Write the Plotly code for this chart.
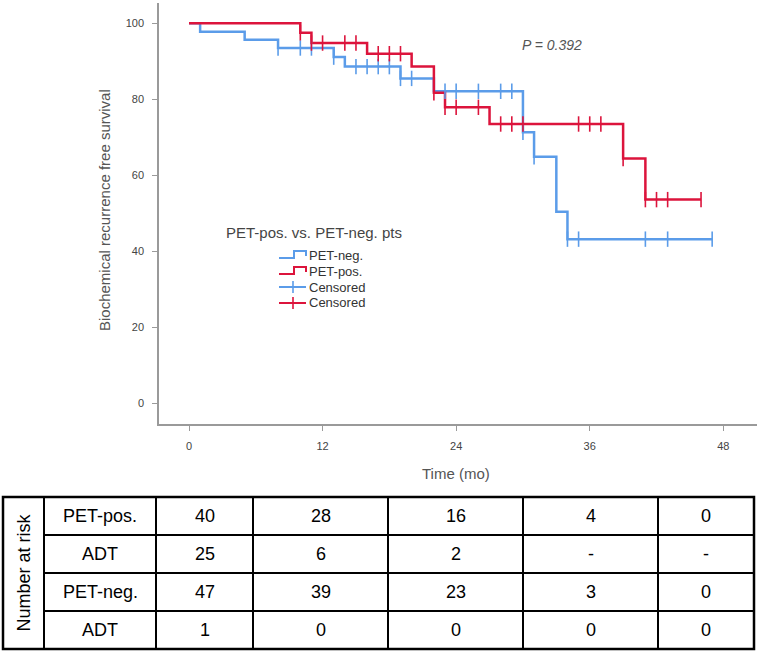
import plotly.graph_objects as go

# ---------------- data ----------------
# Kaplan-Meier step curves (time in months, survival %)
neg_time = [0, 1, 5, 8, 13, 14, 19, 22, 30, 31, 33, 34, 47]
neg_surv = [100, 97.8, 95.7, 93.5, 91.1, 88.6, 85.5, 82.1, 71.3, 64.9, 50.4, 43.2, 43.2]
neg_cens_time = [8, 10, 11, 13, 15, 16, 17, 18, 19, 20, 23, 24, 26, 28, 29, 30, 31, 34, 35, 41, 43, 47]
neg_cens_surv = [93.5, 93.5, 93.5, 91.1, 88.6, 88.6, 88.6, 88.6, 85.5, 85.5, 82.1, 82.1, 82.1, 82.1, 82.1,
                 71.3, 64.9, 43.2, 43.2, 43.2, 43.2, 43.2]

pos_time = [0, 10, 11, 16, 20, 22, 23, 27, 39, 41, 46]
pos_surv = [100, 97.5, 94.8, 92.0, 88.6, 81.7, 77.9, 73.5, 64.4, 53.6, 53.6]
pos_cens_time = [10, 11, 12, 14, 15, 17, 18, 19, 22, 23, 24, 26, 28, 29, 30, 35, 36, 37, 39, 41, 42, 43, 46]
pos_cens_surv = [97.5, 94.8, 94.8, 94.8, 94.8, 92.0, 92.0, 92.0, 81.7, 77.9, 77.9, 77.9,
                 73.5, 73.5, 73.5, 73.5, 73.5, 73.5, 64.4, 53.6, 53.6, 53.6, 53.6]

x_ticks = [0, 12, 24, 36, 48]
y_ticks = [0, 20, 40, 60, 80, 100]

legend_title = "PET-pos. vs. PET-neg. pts"
legend_labels = ["PET-neg.", "PET-pos.", "Censored", "Censored"]
p_text = "P = 0.392"

risk_title = "Number at risk"
risk_rows = ["PET-pos.", "ADT", "PET-neg.", "ADT"]
risk_pos = ["40", "28", "16", "4", "0"]
risk_pos_adt = ["25", "6", "2", "-", "-"]
risk_neg = ["47", "39", "23", "3", "0"]
risk_neg_adt = ["1", "0", "0", "0", "0"]
risk_values = [risk_pos, risk_pos_adt, risk_neg, risk_neg_adt]

# ---------------- styling ----------------
BLUE = "#5b9ce9"
RED = "#dc143c"
AXIS = "#9a9a9a"
TXT = "#444444"
W, H = 757, 653
L, R, T, B = 159, 757, 3, 424  # plot area in pixels


def px(x):
    return (x - L) / (R - L)


def py(y):
    return (B - y) / (B - T)


fig = go.Figure()

fig.add_trace(go.Scatter(x=neg_time, y=neg_surv, mode="lines", line=dict(color=BLUE, width=2.5, shape="hv"),
                         showlegend=False, hoverinfo="skip"))
fig.add_trace(go.Scatter(x=pos_time, y=pos_surv, mode="lines", line=dict(color=RED, width=2.5, shape="hv"),
                         showlegend=False, hoverinfo="skip"))
fig.add_trace(go.Scatter(x=neg_cens_time, y=neg_cens_surv, mode="markers",
                         marker=dict(symbol="line-ns-open", size=11, color=BLUE, line=dict(color=BLUE, width=1.6)),
                         showlegend=False, hoverinfo="skip"))
fig.add_trace(go.Scatter(x=pos_cens_time, y=pos_cens_surv, mode="markers",
                         marker=dict(symbol="line-ns-open", size=11, color=RED, line=dict(color=RED, width=1.6)),
                         showlegend=False, hoverinfo="skip"))

shapes = []
annotations = []

# P value
annotations.append(dict(x=px(552), y=py(45), xref="paper", yref="paper", text="<i>" + p_text + "</i>",
                        showarrow=False, font=dict(family="Liberation Sans, Arial", size=14, color="#555555"),
                        xanchor="center", yanchor="middle"))

# custom legend
annotations.append(dict(x=px(224), y=py(232), xref="paper", yref="paper", text=legend_title, showarrow=False,
                        font=dict(family="Liberation Sans, Arial", size=15, color=TXT),
                        xanchor="left", yanchor="middle"))
leg_y = [255, 271, 287, 303]
leg_col = [BLUE, RED, BLUE, RED]
for i, (lab, col, yy) in enumerate(zip(legend_labels, leg_col, leg_y)):
    annotations.append(dict(x=px(307), y=py(yy), xref="paper", yref="paper", text=lab, showarrow=False,
                            font=dict(family="Liberation Sans, Arial", size=13, color="#333333"),
                            xanchor="left", yanchor="middle"))
    if i < 2:
        pts = [(279, yy + 3), (294, yy + 3), (294, yy - 4), (306, yy - 4), (306, yy + 1)]
        path = "M " + " L ".join(f"{px(a):.5f},{py(b):.5f}" for a, b in pts)
        shapes.append(dict(type="path", xref="paper", yref="paper", path=path,
                           line=dict(color=col, width=2)))
    else:
        shapes.append(dict(type="line", xref="paper", yref="paper", x0=px(279), x1=px(306), y0=py(yy), y1=py(yy),
                           line=dict(color=col, width=2)))
        shapes.append(dict(type="line", xref="paper", yref="paper", x0=px(293), x1=px(293), y0=py(yy - 6),
                           y1=py(yy + 6), line=dict(color=col, width=1.6)))

# axis titles
annotations.append(dict(x=px(104), y=py(210), xref="paper", yref="paper", text="Biochemical recurrence free survival",
                        textangle=-90, showarrow=False,
                        font=dict(family="Liberation Sans, Arial", size=15, color="#555555"),
                        xanchor="center", yanchor="middle"))
annotations.append(dict(x=px(456), y=py(473), xref="paper", yref="paper", text="Time (mo)", showarrow=False,
                        font=dict(family="Liberation Sans, Arial", size=15, color="#555555"),
                        xanchor="center", yanchor="middle"))

# ---------------- number at risk table ----------------
col_x = [3, 44, 156, 253, 388, 523, 658, 754]
row_y = [497, 535, 573, 611, 649]
tfont = dict(family="Liberation Sans, Arial", size=18, color="#000000")

# outer border
shapes.append(dict(type="rect", xref="paper", yref="paper", x0=px(col_x[0]), x1=px(col_x[-1]),
                   y0=py(row_y[0]), y1=py(row_y[-1]), line=dict(color="#000000", width=2.5)))
for cx in col_x[1:-1]:
    shapes.append(dict(type="line", xref="paper", yref="paper", x0=px(cx), x1=px(cx), y0=py(row_y[0]),
                       y1=py(row_y[-1]), line=dict(color="#000000", width=2)))
for ry in row_y[1:-1]:
    shapes.append(dict(type="line", xref="paper", yref="paper", x0=px(col_x[1]), x1=px(col_x[-1]), y0=py(ry),
                       y1=py(ry), line=dict(color="#000000", width=2)))

annotations.append(dict(x=px((col_x[0] + col_x[1]) / 2), y=py((row_y[0] + row_y[-1]) / 2), xref="paper",
                        yref="paper", text=risk_title, textangle=-90, showarrow=False,
                        font=dict(family="Liberation Sans, Arial", size=18, color="#000000"),
                        xanchor="center", yanchor="middle"))
for r, (lab, vals) in enumerate(zip(risk_rows, risk_values)):
    cy = (row_y[r] + row_y[r + 1]) / 2
    annotations.append(dict(x=px((col_x[1] + col_x[2]) / 2), y=py(cy), xref="paper", yref="paper", text=lab,
                            showarrow=False, font=tfont, xanchor="center", yanchor="middle"))
    for c, v in enumerate(vals):
        cx = (col_x[c + 2] + col_x[c + 3]) / 2
        annotations.append(dict(x=px(cx), y=py(cy), xref="paper", yref="paper", text=v,
                                showarrow=False, font=tfont, xanchor="center", yanchor="middle"))

tickfont = dict(family="Liberation Sans, Arial", size=11, color="#444444")
x_lo = (L - 189) / ((723.3 - 189) / 48)
x_hi = (R - 189) / ((723.3 - 189) / 48)
y_lo = -(B - 403.3) / 3.8
y_hi = (403.3 - T) / 3.8

fig.update_layout(
    width=W, height=H,
    margin=dict(l=L, r=W - R, t=T, b=H - B),
    paper_bgcolor="white", plot_bgcolor="white",
    showlegend=False,
    xaxis=dict(range=[x_lo, x_hi], tickvals=x_ticks, ticktext=[str(v) for v in x_ticks],
               showgrid=False, zeroline=False, showline=True, linecolor=AXIS, linewidth=1.5,
               ticks="outside", ticklen=5, tickcolor=AXIS, tickwidth=1, tickfont=tickfont,
               ticklabelstandoff=6),
    yaxis=dict(range=[y_lo, y_hi], tickvals=y_ticks, ticktext=[str(v) for v in y_ticks],
               showgrid=False, zeroline=False, showline=True, linecolor=AXIS, linewidth=1.5,
               ticks="outside", ticklen=5, tickcolor=AXIS, tickwidth=1, tickfont=tickfont,
               ticklabelstandoff=6),
    shapes=shapes,
    annotations=annotations,
)

fig.write_html("out.html", config={"displayModeBar": False},
               post_script="document.body.style.margin='0px';document.body.style.overflow='hidden';")
